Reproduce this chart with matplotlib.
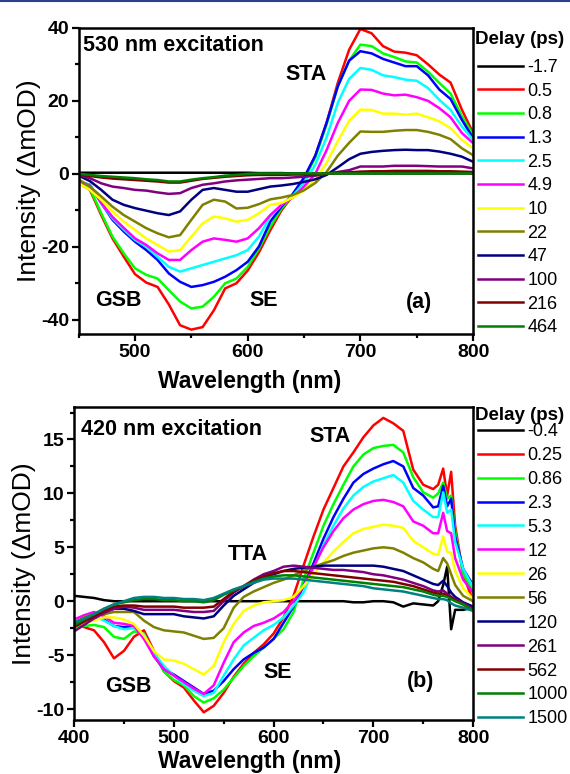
import matplotlib
matplotlib.use("Agg")
import matplotlib.pyplot as plt
from matplotlib.lines import Line2D
from matplotlib.ticker import MultipleLocator

plt.rcParams["font.family"] = ["Liberation Sans", "DejaVu Sans"]
plt.rcParams["axes.unicode_minus"] = False

# ---- panel (a): 530 nm excitation ----
wl_a = [450, 460, 470, 480, 490, 500, 510, 520, 530, 540, 550, 560, 570, 580, 590, 600, 610, 620,
        630, 640, 650, 660, 670, 680, 690, 700, 710, 720, 730, 740, 750, 760, 770, 780, 790, 800]
delays_a = ["-1.7", "0.5", "0.8", "1.3", "2.5", "4.9", "10", "22", "47", "100", "216", "464"]

a_m1p7 = [0.3, 0.3, 0.3, 0.3, 0.3, 0.3, 0.3, 0.3, 0.3, 0.3, 0.3, 0.3, 0.3, 0.3, 0.3, 0.3, 0.2, 0.2,
          0.2, 0.1, 0.1, 0.1, 0.1, 0.1, 0.1, 0.1, 0.1, 0.1, 0.1, 0.1, 0.1, 0.1, 0.1, 0.1, 0.1, 0.1]
a_0p5 = [-2.5, -4.4, -11.3, -17.7, -22.7, -27.5, -29.8, -31.0, -35.8, -41.5, -42.7, -42.0, -37.4, -31.4,
         -30.0, -26.5, -21.5, -15.5, -10.0, -6.0, -1.5, 5.0, 14.0, 25.0, 34.0, 39.7, 38.5, 35.0, 33.5,
         33.2, 32.5, 30.0, 27.2, 25.0, 17.6, 11.2]
a_0p8 = [-2.5, -4.0, -10.8, -17.2, -21.8, -25.9, -27.7, -28.7, -31.9, -35.0, -36.9, -36.4, -33.7, -30.0,
         -28.7, -25.5, -20.5, -14.5, -9.5, -6.0, -1.5, 4.5, 13.5, 24.0, 31.0, 35.4, 35.0, 33.0, 32.0,
         30.8, 30.5, 28.0, 24.9, 22.0, 15.8, 10.7]
a_1p3 = [-2.2, -3.0, -8.0, -12.6, -15.8, -18.6, -20.9, -23.6, -27.3, -29.6, -31.0, -30.5, -29.6, -28.2,
         -26.4, -24.1, -19.9, -13.1, -9.0, -5.5, -1.0, 5.0, 14.0, 24.0, 31.0, 33.6, 33.0, 31.5, 30.5,
         29.5, 29.5, 27.0, 23.1, 20.5, 14.8, 9.8]
a_2p5 = [-2.2, -3.0, -8.0, -12.2, -15.3, -18.1, -20.0, -22.7, -25.5, -26.8, -25.9, -25.0, -24.1, -23.2,
         -22.3, -20.9, -17.2, -11.7, -8.5, -6.0, -2.5, 2.5, 10.0, 19.5, 26.0, 29.0, 28.5, 27.0, 26.5,
         25.8, 25.5, 23.5, 20.3, 17.5, 13.0, 9.3]
a_4p9 = [-2.3, -3.2, -8.0, -11.8, -14.8, -17.7, -19.5, -21.8, -23.6, -23.6, -20.9, -18.6, -17.7, -18.1,
         -18.6, -17.7, -14.9, -11.3, -8.5, -6.5, -3.5, 0.0, 6.5, 14.0, 20.0, 23.1, 23.0, 22.0, 21.5,
         21.7, 21.0, 20.0, 18.0, 15.5, 11.2, 8.4]
a_10 = [-2.6, -4.4, -7.1, -10.3, -13.1, -15.4, -17.7, -19.5, -21.3, -20.9, -17.2, -13.6, -11.7, -12.2,
        -13.1, -12.6, -10.8, -8.5, -8.0, -6.5, -4.5, -1.5, 3.0, 9.0, 14.5, 17.6, 17.5, 16.5, 16.5,
        16.2, 16.5, 15.5, 14.4, 12.5, 9.3, 7.0]
a_22 = [-1.5, -3.5, -6.2, -9.0, -11.3, -13.1, -14.9, -16.3, -17.4, -16.8, -12.6, -8.5, -7.1, -7.6,
        -9.5, -9.3, -8.3, -7.0, -6.5, -5.8, -4.5, -2.5, 0.5, 5.0, 8.5, 11.6, 11.5, 11.5, 11.8,
        12.0, 12.0, 11.5, 10.7, 9.5, 7.0, 5.1]
a_47 = [-0.5, -2.0, -4.4, -7.1, -8.5, -9.4, -10.1, -10.8, -11.3, -10.3, -7.1, -4.4, -3.9, -4.4,
        -4.9, -4.9, -4.2, -3.5, -3.2, -2.8, -2.2, -1.5, -0.3, 1.8, 4.0, 5.5, 6.0, 6.3, 6.5,
        6.6, 6.5, 6.5, 6.1, 5.5, 4.7, 3.3]
a_100 = [-0.3, -1.2, -2.6, -3.5, -3.9, -4.4, -4.6, -5.1, -5.5, -5.3, -3.9, -3.0, -2.6, -2.1,
         -1.8, -1.6, -1.4, -1.2, -1.2, -1.0, -0.8, -0.5, 0.0, 0.5, 1.0, 2.0, 2.0, 2.0, 2.2,
         2.2, 2.2, 2.1, 2.0, 2.0, 2.0, 1.5]
a_216 = [-0.2, -0.6, -1.0, -1.3, -1.5, -1.7, -1.9, -2.1, -2.4, -2.4, -1.9, -1.4, -1.1, -0.8,
         -0.6, -0.4, -0.3, -0.3, -0.3, -0.2, -0.2, -0.1, 0.1, 0.3, 0.4, 0.6, 0.7, 0.7, 0.8,
         0.8, 0.8, 0.8, 0.7, 0.7, 0.6, 0.5]
a_464 = [0.0, -0.3, -0.6, -0.8, -1.0, -1.2, -1.5, -1.7, -2.1, -2.1, -1.6, -1.2, -0.9, -0.5,
         -0.3, 0.0, 0.1, 0.1, 0.1, 0.1, 0.1, 0.1, 0.1, 0.1, 0.1, 0.1, 0.1, 0.1, 0.1,
         0.1, 0.1, 0.1, 0.1, 0.1, 0.1, 0.1]

# ---- panel (b): 420 nm excitation ----
wl_b = [400, 410, 420, 430, 440, 450, 460, 470, 480, 490, 500, 510, 520, 530, 540, 550, 560, 570,
        580, 590, 600, 610, 620, 630, 640, 650, 660, 670, 680, 690, 700, 710, 720, 730, 740, 750,
        760, 765, 770, 774, 778, 782, 790, 800]
delays_b = ["-0.4", "0.25", "0.86", "2.3", "5.3", "12", "26", "56", "120", "261", "562", "1000", "1500"]

b_m0p4 = [0.5, 0.4, 0.3, 0.1, 0.0, 0.0, 0.0, 0.0, 0.0, 0.0, 0.0, 0.0, 0.0, 0.0, 0.0, 0.0, 0.0, 0.0,
          0.0, 0.0, 0.0, 0.0, 0.0, 0.0, 0.0, 0.0, 0.0, 0.0, -0.1, -0.1, 0.0, 0.0, -0.1, -0.5, -0.2, -0.3,
          -0.4, 0.0, 1.5, 3.2, -2.6, -0.8, -0.8, -0.6]
b_0p25 = [-2.1, -2.4, -2.7, -3.8, -5.3, -4.6, -3.3, -2.7, -4.6, -6.5, -7.4, -8.0, -9.2, -10.3, -9.7,
          -8.5, -7.0, -5.8, -4.8, -4.0, -3.0, -1.5, 0.5, 3.3, 6.0, 8.5, 10.5, 12.5, 13.8, 15.2, 16.3,
          17.0, 16.5, 15.8, 12.2, 10.8, 10.4, 10.8, 12.3, 9.8, 12.0, 7.0, 2.5, 0.0]
b_0p86 = [-2.5, -2.3, -2.2, -2.4, -3.3, -3.5, -2.8, -3.0, -4.9, -6.5, -7.3, -7.8, -8.8, -9.4, -9.0,
          -8.2, -7.1, -6.0, -5.1, -4.3, -3.5, -2.6, -1.0, 2.0, 4.5, 7.0, 9.0, 10.8, 12.5, 13.6, 14.2,
          14.4, 14.5, 13.8, 11.5, 10.1, 9.6, 10.0, 11.0, 9.5, 9.8, 6.5, 2.5, 1.0]
b_2p3 = [-2.2, -2.0, -1.5, -1.7, -2.3, -2.4, -2.3, -3.2, -5.1, -6.3, -6.8, -7.4, -8.0, -8.6, -8.3,
         -7.4, -6.3, -5.4, -4.8, -4.3, -3.5, -2.0, -0.5, 1.4, 3.5, 5.8, 7.8, 9.5, 11.0, 11.8, 12.3,
         12.7, 13.0, 12.5, 10.5, 9.8, 8.7, 8.8, 10.7, 8.8, 9.5, 6.0, 3.0, 1.5]
b_5p3 = [-2.0, -1.7, -1.3, -1.8, -2.3, -2.6, -2.5, -3.1, -4.8, -6.0, -6.9, -7.7, -8.3, -8.8, -8.5,
         -6.9, -5.4, -4.1, -3.4, -2.7, -2.2, -1.5, -0.4, 0.8, 3.0, 5.2, 7.0, 8.6, 9.8, 10.6, 11.1,
         11.4, 11.7, 11.0, 9.3, 8.5, 7.8, 7.8, 10.1, 8.2, 8.5, 5.5, 3.0, 1.3]
b_12 = [-1.7, -1.3, -1.0, -1.4, -2.0, -2.1, -2.3, -3.5, -5.1, -6.3, -6.9, -7.5, -8.1, -8.6, -7.8,
        -5.7, -3.8, -2.9, -2.3, -2.0, -1.6, -1.0, 0.0, 1.4, 3.2, 5.0, 6.5, 7.7, 8.5, 9.0, 9.3,
        9.4, 9.2, 8.8, 7.4, 7.0, 6.3, 6.3, 8.2, 6.5, 6.3, 4.0, 2.0, 0.8]
b_26 = [-2.3, -2.0, -1.8, -1.5, -1.5, -1.7, -2.1, -3.2, -4.6, -5.4, -5.5, -5.8, -6.3, -6.8, -6.0,
        -3.8, -2.1, -0.9, -0.4, -0.1, 0.0, 0.1, 0.4, 1.4, 2.5, 3.6, 4.6, 5.5, 6.3, 6.7, 6.9,
        7.1, 7.0, 6.8, 5.6, 5.0, 4.4, 4.3, 6.0, 4.6, 4.5, 2.8, 1.2, 0.2]
b_56 = [-2.0, -1.5, -1.2, -1.2, -1.0, -1.0, -1.0, -1.8, -2.4, -2.7, -2.8, -2.9, -3.2, -3.5, -3.4,
        -2.5, -0.6, 0.4, 0.9, 1.3, 1.7, 2.0, 2.4, 2.8, 3.2, 3.5, 3.8, 4.2, 4.5, 4.7, 4.9,
        5.0, 4.9, 4.5, 4.0, 3.6, 3.0, 2.8, 4.0, 3.5, 2.5, 1.5, 0.5, 0.0]
b_120 = [-2.3, -1.8, -1.4, -1.0, -0.7, -0.7, -0.9, -1.2, -1.2, -1.2, -1.2, -1.4, -1.5, -1.6, -1.4,
         -0.4, 0.5, 1.1, 1.7, 2.2, 2.5, 2.8, 3.0, 3.1, 3.2, 3.3, 3.3, 3.3, 3.3, 3.3, 3.3,
         3.2, 3.0, 2.8, 2.4, 2.0, 1.6, 1.5, 1.9, 1.4, 0.8, 0.4, -0.1, -0.5]
b_261 = [-2.8, -2.2, -1.6, -1.1, -0.7, -0.5, -0.6, -0.8, -0.8, -0.8, -0.8, -0.9, -1.0, -1.0, -0.9,
         0.0, 0.8, 1.4, 2.0, 2.5, 2.8, 3.2, 3.3, 3.2, 3.1, 3.0, 2.9, 2.9, 2.8, 2.7, 2.5,
         2.4, 2.2, 2.0, 1.7, 1.4, 1.0, 0.9, 1.0, 0.7, 0.4, 0.2, -0.2, -0.7]
b_562 = [-2.4, -1.9, -1.4, -0.9, -0.5, -0.4, -0.4, -0.5, -0.5, -0.5, -0.5, -0.6, -0.6, -0.6, -0.5,
         0.2, 0.9, 1.4, 1.9, 2.3, 2.6, 2.8, 2.8, 2.7, 2.6, 2.5, 2.4, 2.3, 2.2, 2.1, 2.0,
         1.9, 1.8, 1.6, 1.4, 1.1, 0.8, 0.7, 0.7, 0.5, 0.3, 0.1, -0.3, -0.8]
b_1000 = [-2.2, -1.7, -1.2, -0.7, -0.3, -0.1, 0.1, 0.2, 0.2, 0.1, 0.1, 0.0, 0.0, -0.1, 0.1,
          0.6, 1.0, 1.4, 1.8, 2.1, 2.3, 2.4, 2.4, 2.3, 2.2, 2.1, 2.0, 1.9, 1.8, 1.7, 1.6,
          1.5, 1.4, 1.3, 1.1, 0.9, 0.6, 0.5, 0.5, 0.4, 0.2, 0.0, -0.3, -0.8]
b_1500 = [-2.0, -1.6, -1.2, -0.7, -0.3, 0.0, 0.3, 0.4, 0.4, 0.3, 0.3, 0.2, 0.2, 0.1, 0.3,
          0.7, 1.1, 1.4, 1.7, 2.0, 2.1, 2.1, 2.1, 2.0, 1.9, 1.8, 1.7, 1.6, 1.5, 1.4, 1.2,
          1.1, 1.0, 0.9, 0.7, 0.5, 0.3, 0.2, 0.2, 0.1, -0.2, -0.4, -0.6, -0.9]

series_a = [a_m1p7, a_0p5, a_0p8, a_1p3, a_2p5, a_4p9, a_10, a_22, a_47, a_100, a_216, a_464]
series_b = [b_m0p4, b_0p25, b_0p86, b_2p3, b_5p3, b_12, b_26, b_56, b_120, b_261, b_562, b_1000, b_1500]

COLORS = ["#000000", "#FF0000", "#00FF00", "#0000FF", "#00FFFF", "#FF00FF", "#FFFF00",
          "#808000", "#000080", "#800080", "#800000", "#008000", "#008080"]

TICK_FS = 14
LABEL_FS = 16.5
YLABEL_FS = 19
NOTE_FS = 15.5
LEG_FS = 13


def style_axis(ax, xmaj, xmin, ymaj, ymin, xlab_x, xlab_y):
    for sp in ax.spines.values():
        sp.set_linewidth(1.8)
    ax.xaxis.set_major_locator(MultipleLocator(xmaj))
    ax.xaxis.set_minor_locator(MultipleLocator(xmin))
    ax.yaxis.set_major_locator(MultipleLocator(ymaj))
    ax.yaxis.set_minor_locator(MultipleLocator(ymin))
    ax.tick_params(which="both", direction="out", top=False, right=False, width=1.6)
    ax.tick_params(which="major", length=5, labelsize=TICK_FS, pad=2)
    ax.tick_params(which="minor", length=3)
    for lab in ax.get_xticklabels() + ax.get_yticklabels():
        lab.set_fontweight("bold")
    ax.set_xlabel("Wavelength (nm)", fontsize=LABEL_FS, fontweight="bold")
    ax.xaxis.set_label_coords(xlab_x, xlab_y)
    ax.set_ylabel("Intensity (\u0394mOD)", fontsize=YLABEL_FS, labelpad=0)


def add_legend(ax, top_px, spacing):
    ax.legend(loc="upper left", bbox_to_anchor=(0.838, 1 - top_px / 774),
              bbox_transform=fig.transFigure, frameon=False, fontsize=LEG_FS,
              handlelength=2.5, handletextpad=0.25, labelspacing=spacing,
              borderpad=0, borderaxespad=0)


fig = plt.figure(figsize=(5.7, 7.74), dpi=100)
fig.add_artist(Line2D([0, 1], [0.999, 0.999], color="#2E3D8F", lw=1.5))

# panel (a)
ax1 = fig.add_axes([0.138, 0.568, 0.692, 0.396])
for vals, lab, col in zip(series_a, delays_a, COLORS):
    ax1.plot(wl_a, vals, color=col, lw=1.8, label=lab)
ax1.set_xlim(450, 800)
ax1.set_ylim(-44, 40)
style_axis(ax1, 100, 50, 20, 10, 0.434, -0.115)
ax1.text(454, 35.2, "530 nm excitation", fontsize=NOTE_FS, fontweight="bold", va="center")
ax1.text(652, 27.2, "STA", fontsize=NOTE_FS, fontweight="bold", ha="center", va="center")
ax1.text(485, -34.6, "GSB", fontsize=NOTE_FS, fontweight="bold", ha="center", va="center")
ax1.text(614, -34.6, "SE", fontsize=NOTE_FS, fontweight="bold", ha="center", va="center")
ax1.text(752, -35.4, "(a)", fontsize=NOTE_FS, fontweight="bold", ha="center", va="center")
add_legend(ax1, 59, 0.37)
fig.text(0.833, 1 - 40 / 774, "Delay (ps)", fontsize=13.5, fontweight="bold", va="center")

# panel (b)
ax2 = fig.add_axes([0.130, 0.070, 0.700, 0.404])
for vals, lab, col in zip(series_b, delays_b, COLORS):
    ax2.plot(wl_b, vals, color=col, lw=1.8, label=lab)
ax2.set_xlim(400, 800)
ax2.set_ylim(-11, 18)
style_axis(ax2, 100, 50, 5, 2.5, 0.44, -0.096)
ax2.text(407, 15.9, "420 nm excitation", fontsize=NOTE_FS, fontweight="bold", va="center")
ax2.text(657, 15.3, "STA", fontsize=NOTE_FS, fontweight="bold", ha="center", va="center")
ax2.text(574, 4.35, "TTA", fontsize=NOTE_FS, fontweight="bold", ha="center", va="center")
ax2.text(454, -7.9, "GSB", fontsize=NOTE_FS, fontweight="bold", ha="center", va="center")
ax2.text(604, -6.6, "SE", fontsize=NOTE_FS, fontweight="bold", ha="center", va="center")
ax2.text(747, -7.4, "(b)", fontsize=NOTE_FS, fontweight="bold", ha="center", va="center")
add_legend(ax2, 423, 0.385)
fig.text(0.833, 1 - 415 / 774, "Delay (ps)", fontsize=13.5, fontweight="bold", va="center")

fig.savefig("out.png", dpi=100)
